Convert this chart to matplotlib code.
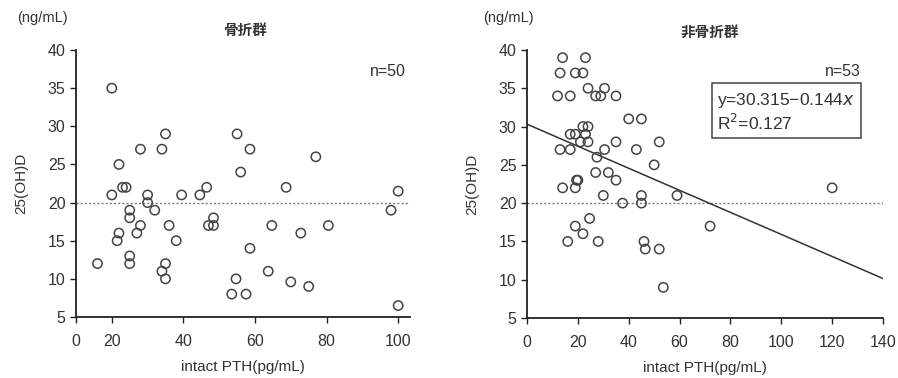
import numpy as np
import matplotlib
matplotlib.use("Agg")
import matplotlib.pyplot as plt

plt.rcParams['font.family'] = ['Liberation Sans', 'Noto Sans CJK JP', 'DejaVu Sans']

# 骨折群 (fracture group)
frac_pth = [20, 12, 20, 22, 23, 24, 21.5, 22, 25, 25, 25, 25, 27, 28, 28, 30, 30, 32,
            34, 35, 36, 34, 35, 35, 38, 39.5, 44.6, 46.5, 47, 48.4, 48.4, 55, 56, 54.7,
            53.5, 57.5, 58.6, 58.6, 68.7, 77, 64.7, 72.8, 80.5, 63.7, 70, 75, 100, 98, 100]
frac_vd = [35, 12, 21, 25, 22, 22, 15, 16, 19, 18, 13, 12, 16, 17, 27, 21, 20, 19,
           27, 29, 17, 11, 12, 10, 15, 21, 21, 22, 17, 17, 18, 29, 24, 10,
           8, 8, 27, 14, 22, 26, 17, 16, 17, 11, 9.6, 9, 21.5, 19, 6.5]

# 非骨折群 (non-fracture group)
nonfrac_pth = [14, 23, 13, 19, 22, 12, 17, 24, 27, 29, 30.5, 35, 40, 45, 22, 24, 17, 19,
               23, 21, 24, 13, 17, 30.5, 35, 43, 52, 27.5, 50, 27, 32, 35, 19.5, 20,
               14, 19, 30, 45, 59, 37.6, 45, 24.6, 19, 22, 16, 28, 46, 46.5, 52, 53.6,
               72, 120]
nonfrac_vd = [39, 39, 37, 37, 37, 34, 34, 35, 34, 34, 35, 34, 31, 31, 30, 30, 29, 29,
              29, 28, 28, 27, 27, 27, 28, 27, 28, 26, 25, 24, 24, 23, 23, 23,
              22, 22, 21, 21, 21, 20, 20, 18, 17, 16, 15, 15, 15, 14, 14, 9,
              17, 22]

ref_level = 20
fit_a, fit_b = 30.315, -0.144

text_c = '#333333'
mark_c = '#444444'


def fwd(x):
    x = np.asarray(x, dtype=float)
    return np.where(x < 20, x / 2, x - 10)


def inv(t):
    t = np.asarray(t, dtype=float)
    return np.where(t < 10, t * 2, t + 10)


fig = plt.figure(figsize=(8.98, 3.78), dpi=100)
ax1 = fig.add_axes([76 / 898, 1 - 317 / 378, 334 / 898, 267 / 378])
ax2 = fig.add_axes([527 / 898, 1 - 318 / 378, 356 / 898, 268 / 378])

for ax in (ax1, ax2):
    ax.spines['top'].set_visible(False)
    ax.spines['right'].set_visible(False)
    for s in ('left', 'bottom'):
        ax.spines[s].set_linewidth(1.3)
        ax.spines[s].set_color('#222222')
    ax.set_ylim(5, 40)
    ax.set_yticks(range(5, 41, 5))
    ax.tick_params(direction='out', length=4, width=1, colors='#222222',
                   labelsize=11.5, labelcolor=text_c)
    ax.tick_params(axis='x', pad=8)
    ax.set_ylabel('25(OH)D', fontsize=11, color=text_c, labelpad=14)

# left panel
ax1.set_xscale('function', functions=(fwd, inv))
ax1.set_xlim(0, 103.3)
ax1.set_xticks([0, 20, 40, 60, 80, 100])
ax1.scatter(frac_pth, frac_vd, s=45, facecolors='none', edgecolors=mark_c,
            linewidths=1.1, zorder=3, clip_on=False)
ax1.axhline(ref_level, color='#777777', lw=1, ls=(0, (1.5, 1.5)), zorder=1)
ax1.set_xlabel('intact PTH(pg/mL)', fontsize=11, color=text_c, labelpad=8)
ax1.text(0.934, 0.92, 'n=50', transform=ax1.transAxes, fontsize=11.5,
         color=text_c, ha='center', va='center')

# right panel
ax2.set_xlim(0, 140)
ax2.set_xticks(range(0, 141, 20))
ax2.scatter(nonfrac_pth, nonfrac_vd, s=45, facecolors='none', edgecolors=mark_c,
            linewidths=1.1, zorder=3, clip_on=False)
ax2.axhline(ref_level, color='#777777', lw=1, ls=(0, (1.5, 1.5)), zorder=1)
xs = np.array([0, 140])
ax2.plot(xs, fit_a + fit_b * xs, color='#333333', lw=1.1, zorder=2)
ax2.set_xlabel('intact PTH(pg/mL)', fontsize=11, color=text_c, labelpad=8)
ax2.text(0.888, 0.918, 'n=53', transform=ax2.transAxes, fontsize=11.5,
         color=text_c, ha='center', va='center')
ax2.text(0.535, 0.769, 'y=30.315\u22120.144$\\mathit{x}$\nR$^2$=0.127',
         transform=ax2.transAxes, fontsize=12.5, color=text_c, va='center',
         linespacing=1.2,
         bbox=dict(boxstyle='square,pad=0.3', fc='white', ec='#444444', lw=1.1))

# titles and units
fig.text(245 / 898, 1 - 30 / 378, '骨折群', ha='center', va='center', fontsize=10.5,
         fontweight='bold', color=text_c, family=['Noto Sans CJK JP'])
fig.text(710 / 898, 1 - 32 / 378, '非骨折群', ha='center', va='center', fontsize=10.5,
         fontweight='bold', color=text_c, family=['Noto Sans CJK JP'])
fig.text(42 / 898, 1 - 18 / 378, '(ng/mL)', ha='center', va='center', fontsize=10.5,
         color=text_c)
fig.text(508 / 898, 1 - 18 / 378, '(ng/mL)', ha='center', va='center', fontsize=10.5,
         color=text_c)

fig.savefig('out.png', dpi=100)
